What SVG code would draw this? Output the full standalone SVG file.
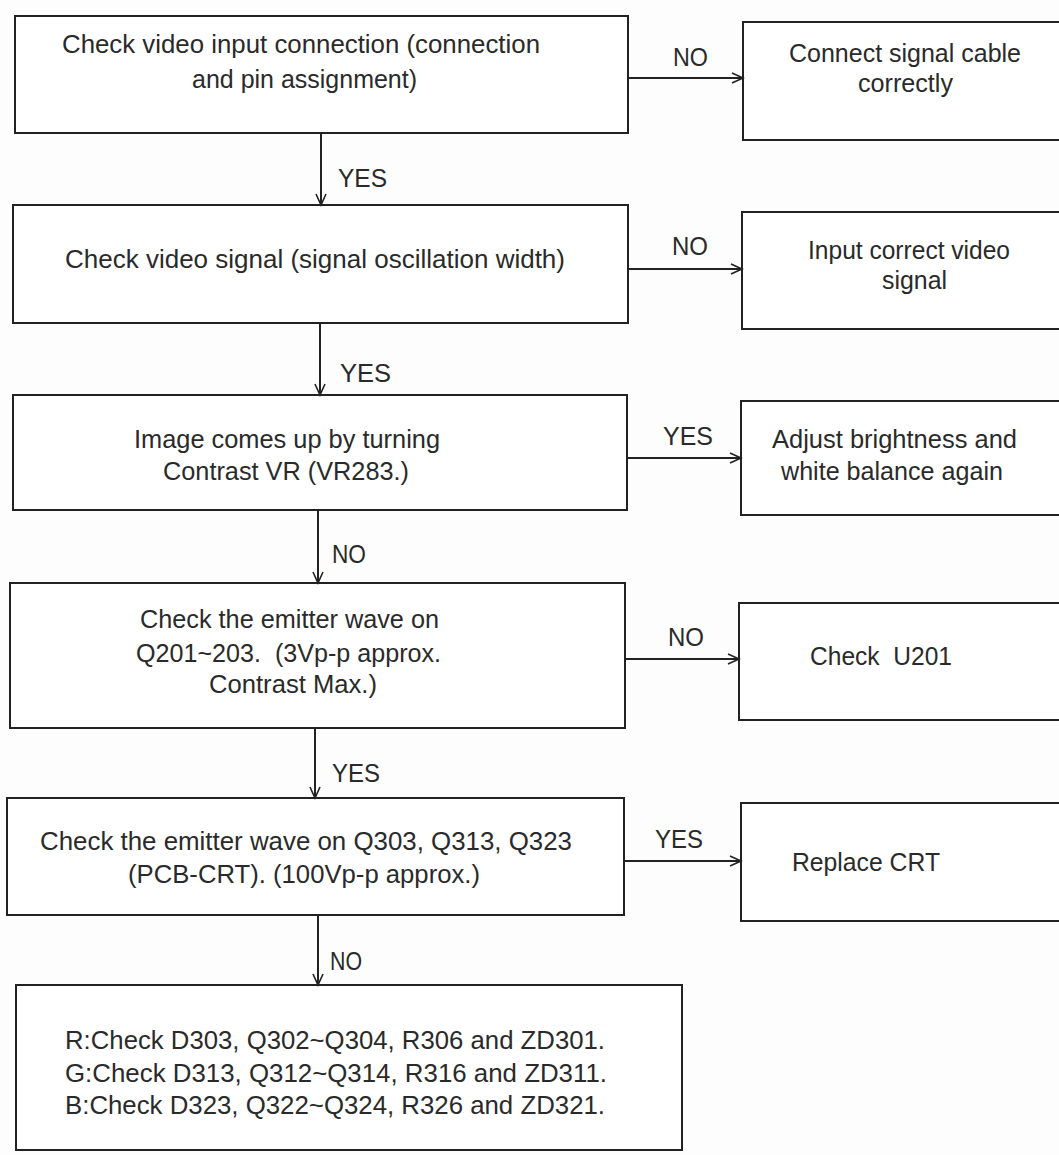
<svg xmlns="http://www.w3.org/2000/svg" width="1059" height="1155" viewBox="0 0 1059 1155">
<style>
.box{fill:#ffffff;stroke:#222;stroke-width:2}
.t{font-family:"Liberation Sans",Arial,sans-serif;font-size:26px;fill:#2a2a2a}
.lbl{font-family:"Liberation Sans",Arial,sans-serif;font-size:25px;fill:#2a2a2a}
.c{stroke:#222;stroke-width:2;fill:none}
</style>
<defs>
<marker id="ah" markerUnits="userSpaceOnUse" markerWidth="14" markerHeight="14" refX="12" refY="6" orient="auto">
<path d="M1,1 L12,6 L1,11" fill="none" stroke="#222" stroke-width="1.6"/>
</marker>
</defs>
<rect width="1059" height="1155" fill="#fdfdfd"/>

<g id="n1"><rect class="box" x="15" y="16" width="613" height="117"/>
<text class="t" x="62" y="53" textLength="478" lengthAdjust="spacingAndGlyphs">Check video input connection (connection</text>
<text class="t" x="192" y="88" textLength="225" lengthAdjust="spacingAndGlyphs">and pin assignment)</text></g>

<g id="n1r"><rect class="box" x="743" y="22" width="320" height="118"/>
<text class="t" x="789" y="62" textLength="232" lengthAdjust="spacingAndGlyphs">Connect signal cable</text>
<text class="t" x="858" y="92" textLength="95" lengthAdjust="spacingAndGlyphs">correctly</text></g>

<g id="n2"><rect class="box" x="13" y="205" width="615" height="118"/>
<text class="t" x="65" y="268" textLength="500" lengthAdjust="spacingAndGlyphs">Check video signal (signal oscillation width)</text></g>

<g id="n2r"><rect class="box" x="742" y="212" width="321" height="117"/>
<text class="t" x="808" y="259" textLength="202" lengthAdjust="spacingAndGlyphs">Input correct video</text>
<text class="t" x="882" y="289" textLength="65" lengthAdjust="spacingAndGlyphs">signal</text></g>

<g id="n3"><rect class="box" x="13" y="395" width="614" height="115"/>
<text class="t" x="134" y="448" textLength="306" lengthAdjust="spacingAndGlyphs">Image comes up by turning</text>
<text class="t" x="163" y="480" textLength="246" lengthAdjust="spacingAndGlyphs">Contrast VR (VR283.)</text></g>

<g id="n3r"><rect class="box" x="741" y="401" width="322" height="114"/>
<text class="t" x="772" y="448" textLength="245" lengthAdjust="spacingAndGlyphs">Adjust brightness and</text>
<text class="t" x="781" y="480" textLength="222" lengthAdjust="spacingAndGlyphs">white balance again</text></g>

<g id="n4"><rect class="box" x="10" y="583" width="615" height="145"/>
<text class="t" x="140" y="628" textLength="299" lengthAdjust="spacingAndGlyphs">Check the emitter wave on</text>
<text class="t" x="136" y="662" textLength="305" lengthAdjust="spacingAndGlyphs" xml:space="preserve">Q201~203.  (3Vp-p approx.</text>
<text class="t" x="209" y="693" textLength="168" lengthAdjust="spacingAndGlyphs">Contrast Max.)</text></g>

<g id="n4r"><rect class="box" x="739" y="603" width="324" height="117"/>
<text class="t" x="810" y="665" textLength="142" lengthAdjust="spacingAndGlyphs" xml:space="preserve">Check  U201</text></g>

<g id="n5"><rect class="box" x="7" y="798" width="617" height="117"/>
<text class="t" x="40" y="850" textLength="532" lengthAdjust="spacingAndGlyphs">Check the emitter wave on Q303, Q313, Q323</text>
<text class="t" x="128" y="883" textLength="352" lengthAdjust="spacingAndGlyphs">(PCB-CRT). (100Vp-p approx.)</text></g>

<g id="n5r"><rect class="box" x="741" y="803" width="322" height="118"/>
<text class="t" x="792" y="871" textLength="148" lengthAdjust="spacingAndGlyphs">Replace CRT</text></g>

<g id="n6"><rect class="box" x="16" y="985" width="666" height="165"/>
<text class="t" x="65" y="1049" textLength="540" lengthAdjust="spacingAndGlyphs">R:Check D303, Q302~Q304, R306 and ZD301.</text>
<text class="t" x="65" y="1082" textLength="542" lengthAdjust="spacingAndGlyphs">G:Check D313, Q312~Q314, R316 and ZD311.</text>
<text class="t" x="65" y="1114" textLength="540" lengthAdjust="spacingAndGlyphs">B:Check D323, Q322~Q324, R326 and ZD321.</text></g>

<g id="connectors">
<line class="c" x1="628" y1="78" x2="743" y2="78" marker-end="url(#ah)"/>
<text class="lbl" x="673" y="66" textLength="35" lengthAdjust="spacingAndGlyphs">NO</text>
<line class="c" x1="321" y1="133" x2="321" y2="205" marker-end="url(#ah)"/>
<text class="lbl" x="338" y="187" textLength="49" lengthAdjust="spacingAndGlyphs">YES</text>

<line class="c" x1="628" y1="269" x2="742" y2="269" marker-end="url(#ah)"/>
<text class="lbl" x="672" y="255" textLength="36" lengthAdjust="spacingAndGlyphs">NO</text>
<line class="c" x1="320" y1="323" x2="320" y2="395" marker-end="url(#ah)"/>
<text class="lbl" x="340" y="382" textLength="51" lengthAdjust="spacingAndGlyphs">YES</text>

<line class="c" x1="627" y1="458" x2="741" y2="458" marker-end="url(#ah)"/>
<text class="lbl" x="663" y="445" textLength="50" lengthAdjust="spacingAndGlyphs">YES</text>
<line class="c" x1="318" y1="510" x2="318" y2="583" marker-end="url(#ah)"/>
<text class="lbl" x="332" y="563" textLength="34" lengthAdjust="spacingAndGlyphs">NO</text>

<line class="c" x1="625" y1="659" x2="739" y2="659" marker-end="url(#ah)"/>
<text class="lbl" x="668" y="646" textLength="36" lengthAdjust="spacingAndGlyphs">NO</text>
<line class="c" x1="315" y1="728" x2="315" y2="798" marker-end="url(#ah)"/>
<text class="lbl" x="332" y="782" textLength="48" lengthAdjust="spacingAndGlyphs">YES</text>

<line class="c" x1="624" y1="861" x2="741" y2="861" marker-end="url(#ah)"/>
<text class="lbl" x="655" y="848" textLength="48" lengthAdjust="spacingAndGlyphs">YES</text>
<line class="c" x1="318" y1="915" x2="318" y2="985" marker-end="url(#ah)"/>
<text class="lbl" x="330" y="970" textLength="32" lengthAdjust="spacingAndGlyphs">NO</text>
</g>
</svg>
